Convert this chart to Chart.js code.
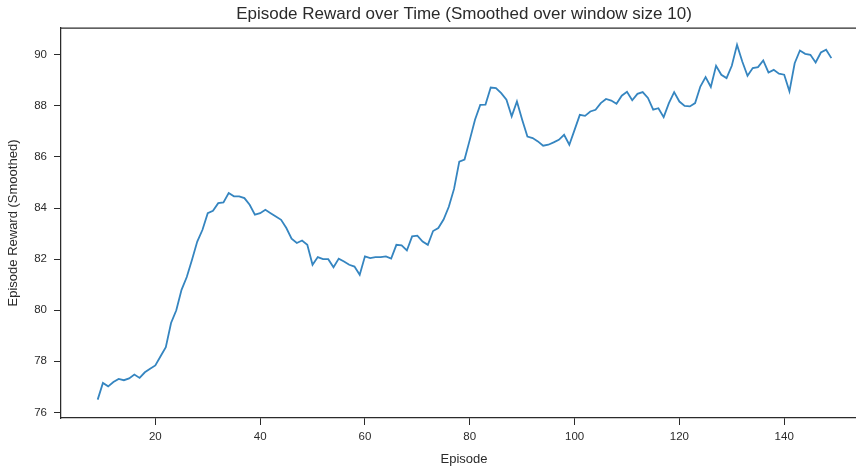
<!DOCTYPE html>
<html>
<head>
<meta charset="utf-8">
<script src="https://cdn.jsdelivr.net/npm/chart.js@4.4.1/dist/chart.umd.min.js"></script>
<style>
  html, body { margin: 0; padding: 0; background: #fff; overflow: hidden; }
  /* the original axes run a little past the right edge of the picture,
     so the canvas is wider than the window and gets cut off */
  #wrap { width: 856px; height: 467px; overflow: hidden; }
</style>
</head>
<body>
<div id="wrap"><canvas id="rewardChart" width="867" height="467"></canvas></div>
<script>
// --- data ---
const episodes = [
  9, 10, 11, 12, 13, 14, 15, 16, 17, 18, 19, 20, 21, 22, 23, 24, 25, 26, 27, 28,
  29, 30, 31, 32, 33, 34, 35, 36, 37, 38, 39, 40, 41, 42, 43, 44, 45, 46, 47, 48,
  49, 50, 51, 52, 53, 54, 55, 56, 57, 58, 59, 60, 61, 62, 63, 64, 65, 66, 67, 68,
  69, 70, 71, 72, 73, 74, 75, 76, 77, 78, 79, 80, 81, 82, 83, 84, 85, 86, 87, 88,
  89, 90, 91, 92, 93, 94, 95, 96, 97, 98, 99, 100, 101, 102, 103, 104, 105, 106, 107, 108,
  109, 110, 111, 112, 113, 114, 115, 116, 117, 118, 119, 120, 121, 122, 123, 124, 125, 126, 127, 128,
  129, 130, 131, 132, 133, 134, 135, 136, 137, 138, 139, 140, 141, 142, 143, 144, 145, 146, 147, 148,
  149
];

const smoothedReward = [
  76.50, 77.15, 77.02, 77.19, 77.31, 77.26, 77.33, 77.48, 77.35, 77.57, 77.71, 77.84, 78.20, 78.55, 79.50, 80.00, 80.80, 81.30, 81.98, 82.69,
  83.15, 83.80, 83.89, 84.19, 84.22, 84.59, 84.46, 84.46, 84.39, 84.13, 83.74, 83.80, 83.93, 83.80, 83.67, 83.54, 83.22, 82.80, 82.63, 82.73,
  82.56, 81.78, 82.08, 82.00, 82.00, 81.68, 82.02, 81.91, 81.78, 81.71, 81.39, 82.11, 82.04, 82.08, 82.08, 82.11, 82.02, 82.56, 82.54, 82.34,
  82.89, 82.92, 82.69, 82.56, 83.10, 83.22, 83.55, 84.05, 84.75, 85.82, 85.90, 86.67, 87.46, 88.04, 88.05, 88.72, 88.70, 88.50, 88.24, 87.59,
  88.17, 87.46, 86.80, 86.74, 86.61, 86.44, 86.48, 86.57, 86.67, 86.87, 86.48, 87.06, 87.65, 87.61, 87.78, 87.85, 88.11, 88.27, 88.21, 88.08,
  88.40, 88.55, 88.22, 88.47, 88.54, 88.31, 87.85, 87.91, 87.56, 88.11, 88.54, 88.17, 88.00, 87.98, 88.11, 88.76, 89.13, 88.74, 89.57, 89.22,
  89.09, 89.57, 90.39, 89.74, 89.18, 89.48, 89.52, 89.78, 89.31, 89.41, 89.26, 89.22, 88.57, 89.67, 90.17, 90.04, 90.00, 89.70, 90.09, 90.20,
  89.87
];

const xTickValues = [20, 40, 60, 80, 100, 120, 140];
const yTickValues = [76, 78, 80, 82, 84, 86, 88, 90];

// --- look ---
const FONT = "'Liberation Sans', Arial, sans-serif";
const INK = '#2b2b2b';
const LINE_BLUE = '#3585c0';

// top spine like matplotlib (the right one falls just outside the picture)
const topSpine = {
  id: 'topSpine',
  afterDraw(chart) {
    const { ctx, chartArea } = chart;
    ctx.save();
    ctx.strokeStyle = INK;
    ctx.lineWidth = 1.25;
    ctx.beginPath();
    ctx.moveTo(chartArea.left, chartArea.top);
    ctx.lineTo(chartArea.right, chartArea.top);
    ctx.stroke();
    ctx.restore();
  }
};

const points = episodes.map((ep, i) => ({ x: ep, y: smoothedReward[i] }));

const ctx = document.getElementById('rewardChart').getContext('2d');
new Chart(ctx, {
  type: 'line',
  data: {
    datasets: [{
      label: 'Episode Reward (Smoothed)',
      data: points,
      borderColor: LINE_BLUE,
      borderWidth: 1.8,
      pointRadius: 0,
      fill: false,
      tension: 0
    }]
  },
  options: {
    responsive: false,
    animation: false,
    devicePixelRatio: 1,
    layout: { padding: 0 },
    plugins: {
      legend: { display: false },
      tooltip: { enabled: false },
      title: {
        display: true,
        fullSize: false, // centred over the axes, like matplotlib
        text: 'Episode Reward over Time (Smoothed over window size 10)',
        color: INK,
        font: { family: FONT, size: 17, weight: 'normal' },
        padding: { top: 3.8, bottom: 3.8 }
      }
    },
    scales: {
      x: {
        type: 'linear',
        min: 2,
        max: 155.8,
        afterBuildTicks: s => { s.ticks = xTickValues.map(v => ({ value: v })); },
        afterFit: s => { s.height = 49; },
        border: { color: INK, width: 1.25 },
        grid: { drawOnChartArea: false, tickLength: 7, tickColor: INK, tickWidth: 1 },
        ticks: { color: INK, font: { family: FONT, size: 11.5 }, padding: 5, maxRotation: 0 },
        title: {
          display: true, text: 'Episode', color: INK,
          font: { family: FONT, size: 13 }, padding: { top: 0, bottom: 0 }
        }
      },
      y: {
        min: 75.78,
        max: 91.05,
        afterBuildTicks: s => { s.ticks = yTickValues.map(v => ({ value: v })); },
        afterFit: s => { s.width = 61; },
        border: { color: INK, width: 1.25 },
        grid: { drawOnChartArea: false, tickLength: 7, tickColor: INK, tickWidth: 1 },
        ticks: { color: INK, font: { family: FONT, size: 11.5 }, padding: 7 },
        title: {
          display: true, text: 'Episode Reward (Smoothed)', color: INK,
          font: { family: FONT, size: 13 }, padding: { top: 6, bottom: 0 }
        }
      }
    }
  },
  plugins: [topSpine]
});
</script>
</body>
</html>
